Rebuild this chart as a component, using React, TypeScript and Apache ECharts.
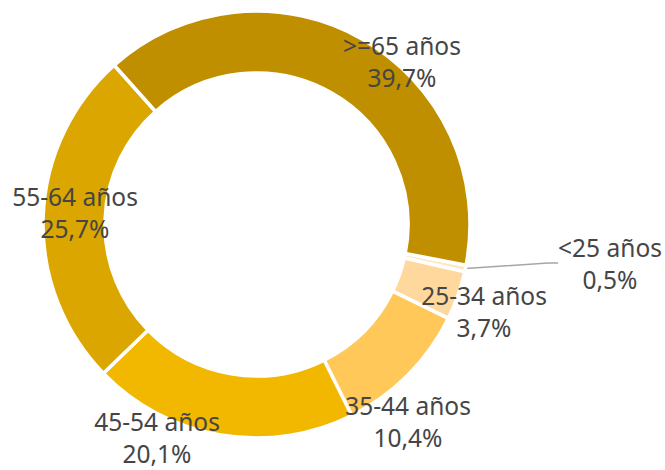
import React, { useEffect, useRef } from "react";
import * as echarts from "echarts";

const categories = ["<25 años", "25-34 años", "35-44 años", "45-54 años", "55-64 años", ">=65 años"];
const values = [0.5, 3.7, 10.4, 20.1, 25.7, 39.7];
const colors = ["#FFE6C4", "#FFD89E", "#FFC858", "#F2B800", "#DBA600", "#BF8F00"];
// label block centres (px)
const labelPos: [number, number][] = [
  [610, 263],
  [484, 311],
  [408, 421],
  [157, 437],
  [75, 212],
  [402, 61],
];

export default function App() {
  const ref = useRef<HTMLDivElement>(null);
  useEffect(() => {
    if (!ref.current) return;
    const chart = echarts.init(ref.current, undefined, { renderer: "svg" });
    chart.setOption({
      animation: false,
      backgroundColor: "#ffffff",
      series: [
        {
          type: "pie",
          center: [256.5, 224.5],
          radius: [151.5, 213.5],
          startAngle: -11,
          clockwise: true,
          avoidLabelOverlap: false,
          itemStyle: { borderColor: "#ffffff", borderWidth: 3.5 },
          label: {
            show: true,
            position: "inside",
            color: "#454545",
            fontFamily: "Noto Sans",
            fontSize: 24.5,
            lineHeight: 32,
            align: "center",
            formatter: (p: any) =>
              `${p.name}\n${Number(p.value).toFixed(1).replace(".", ",")}%`,
          },
          labelLine: { show: false },
          labelLayout: (p: any) => {
            const pos = labelPos[p.dataIndex];
            return { x: pos[0], y: pos[1], align: "center", verticalAlign: "middle" };
          },
          data: categories.map((c, i) => ({
            name: c,
            value: values[i],
            itemStyle: { color: colors[i] },
            ...(i === 0
              ? {
                  label: { position: "outside" },
                  labelLine: {
                    show: true,
                    length: 10,
                    length2: 10,
                    lineStyle: { color: "#A6A6A6", width: 1.5 },
                  },
                }
              : {}),
          })),
        },
      ],
    });
    return () => chart.dispose();
  }, []);
  return (
    <div
      ref={ref}
      style={{ position: "fixed", left: 0, top: 0, width: 665, height: 470 }}
    />
  );
}
